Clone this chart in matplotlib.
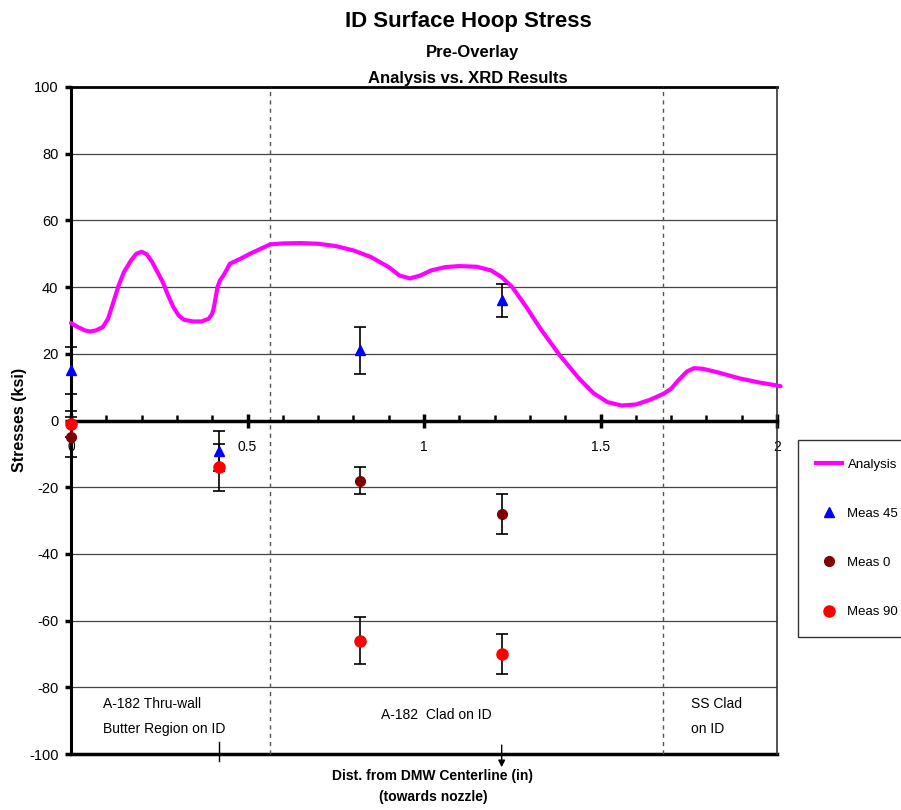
import matplotlib
matplotlib.use('Agg')
import matplotlib.pyplot as plt
from matplotlib.ticker import MultipleLocator, FuncFormatter
from matplotlib.lines import Line2D

plt.rcParams['font.family'] = ['Liberation Sans', 'DejaVu Sans']
plt.rcParams['axes.unicode_minus'] = False

# analysis curve, ID surface hoop stress (ksi) vs distance (in)
analysis_x = [0, 0.02, 0.04, 0.054, 0.07, 0.09, 0.105, 0.12, 0.135, 0.15,
              0.17, 0.185, 0.20, 0.215, 0.23, 0.245, 0.26, 0.275, 0.29, 0.305,
              0.32, 0.346, 0.37, 0.39, 0.40, 0.405, 0.41, 0.415, 0.422, 0.432,
              0.44, 0.45, 0.48, 0.507, 0.564, 0.60, 0.65, 0.70, 0.75, 0.80,
              0.85, 0.90, 0.93, 0.96, 0.99, 1.02, 1.06, 1.10, 1.15, 1.19,
              1.22, 1.25, 1.29, 1.33, 1.385, 1.44, 1.48, 1.52, 1.56, 1.60,
              1.64, 1.678, 1.70, 1.72, 1.745, 1.765, 1.79, 1.83, 1.895, 1.95,
              2.0, 2.01]
analysis_y = [29.2, 28, 27, 26.7, 27, 28, 30.5, 35.5, 40.5, 44.5,
              48, 50, 50.6, 49.8, 47.5, 44.5, 41.5, 37.5, 34, 31.5,
              30.2, 29.7, 29.7, 30.5, 32, 34, 37, 40, 42, 43.5,
              45, 47, 48.5, 50, 52.8, 53.1, 53.2, 53, 52.3, 51,
              49, 46, 43.5, 42.6, 43.5, 45, 46, 46.3, 46.1, 45,
              43, 40, 34, 27.5, 19.5, 12.5, 8.2, 5.5, 4.5, 4.8,
              6.2, 8, 9.5, 12, 14.7, 15.7, 15.5, 14.5, 12.6, 11.4,
              10.5, 10.3]

# XRD measurements
meas_x = [0, 0.42, 0.82, 1.22]
meas45 = [15, -9, 21, 36]
meas45_err = [7, 6, 7, 5]
meas0 = [-5, None, -18, -28]
meas0_err = [6, 0, 4, 6]
meas90 = [-1, -14, -66, -70]
meas90_err = [4, 7, 7, 6]

# material region boundaries
boundaries = [0.564, 1.677]

fig = plt.figure(figsize=(9.01, 8.10), dpi=100)
ax = fig.add_axes([0.0788, 0.0691, 0.7836, 0.8235])

ax.set_xlim(0, 2)
ax.set_ylim(-100, 100)

ax.spines['top'].set_visible(False)
ax.spines['right'].set_color('#333333')
ax.spines['right'].set_linewidth(1.2)
ax.spines['left'].set_linewidth(2.2)
ax.spines['bottom'].set_position(('data', 0))
ax.spines['bottom'].set_linewidth(2.5)

ax.yaxis.set_major_locator(MultipleLocator(20))
ax.xaxis.set_major_locator(MultipleLocator(0.5))
ax.xaxis.set_minor_locator(MultipleLocator(0.1))
ax.xaxis.set_major_formatter(FuncFormatter(lambda v, p: '%g' % v))
ax.tick_params(axis='x', which='major', direction='inout', length=10, width=2.5,
               pad=9, labelsize=10)
ax.tick_params(axis='x', which='minor', direction='in', length=4, width=1.8)
ax.tick_params(axis='y', which='major', direction='out', length=4, width=2.5,
               pad=5, labelsize=10.5)

ax.grid(axis='y', color='#444444', linewidth=0.9)
ax.axhline(100, color='black', linewidth=2, clip_on=False)
ax.axhline(-100, color='black', linewidth=2.5, clip_on=False)

for b in boundaries:
    ax.axvline(b, color='#555555', linewidth=1, linestyle=(0, (3, 3)))

ax.plot(analysis_x, analysis_y, color='#ff00ff', linewidth=3, clip_on=False,
        solid_joinstyle='round', solid_capstyle='round', zorder=3)

ebar = dict(fmt='none', ecolor='black', elinewidth=1.2, capsize=4,
            capthick=1.2, zorder=4, clip_on=False)
x0 = [x for x, v in zip(meas_x, meas0) if v is not None]
y0 = [v for v in meas0 if v is not None]
e0 = [e for e, v in zip(meas0_err, meas0) if v is not None]
ax.errorbar(meas_x, meas45, yerr=meas45_err, **ebar)
ax.errorbar(x0, y0, yerr=e0, **ebar)
ax.errorbar(meas_x, meas90, yerr=meas90_err, **ebar)
ax.plot(meas_x, meas45, '^', color='#0000ff', markersize=7, zorder=5,
        clip_on=False)
ax.plot(x0, y0, 'o', color='#800000', markersize=7, zorder=5, clip_on=False)
ax.plot(meas_x, meas90, 'o', color='#ff0000', markersize=8, zorder=5,
        clip_on=False)

# region labels
ax.text(0.09, -88.8, 'A-182 Thru-wall\nButter Region on ID', fontsize=10,
        va='center', ha='left', linespacing=1.95)
ax.text(1.035, -88.4, 'A-182  Clad on ID', fontsize=10, va='center',
        ha='center')
ax.text(1.757, -88.8, 'SS Clad\non ID', fontsize=10, va='center', ha='left',
        linespacing=1.95)

# position markers below the axis
ax.plot([meas_x[1], meas_x[1]], [-96.5, -102], color='black', linewidth=1,
        clip_on=False)
ax.annotate('', xy=(meas_x[3], -104.8), xytext=(meas_x[3], -96.5),
            arrowprops=dict(arrowstyle='-|>', color='black', lw=1,
                            mutation_scale=10),
            annotation_clip=False)

fig.text(20 / 901, 1 - 420 / 810, 'Stresses (ksi)', fontsize=11.5,
         fontweight='bold', rotation=90, ha='center', va='center')

fig.text(433 / 901, 1 - 776 / 810, 'Dist. from DMW Centerline (in)',
         fontsize=10, fontweight='bold', ha='center', va='center')
fig.text(433 / 901, 1 - 797 / 810, '(towards nozzle)', fontsize=10,
         fontweight='bold', ha='center', va='center')

fig.text(468 / 901, 1 - 22 / 810, 'ID Surface Hoop Stress', fontsize=16,
         fontweight='bold', ha='center', va='center')
fig.text(472 / 901, 1 - 53 / 810, 'Pre-Overlay', fontsize=12,
         fontweight='bold', ha='center', va='center')
fig.text(468 / 901, 1 - 78 / 810, 'Analysis vs. XRD Results', fontsize=12,
         fontweight='bold', ha='center', va='center')

handles = [
    Line2D([], [], color='#ff00ff', linewidth=3),
    Line2D([], [], marker='^', color='#0000ff', linestyle='none', markersize=7),
    Line2D([], [], marker='o', color='#800000', linestyle='none', markersize=7),
    Line2D([], [], marker='o', color='#ff0000', linestyle='none', markersize=8),
]
leg = fig.legend(handles, ['Analysis', 'Meas 45', 'Meas 0', 'Meas 90'],
                 loc='upper left', bbox_to_anchor=(798 / 901, 1 - 440 / 810),
                 fontsize=9.5, frameon=True, fancybox=False, labelspacing=2.8,
                 handlelength=1.9, handletextpad=0.45, borderpad=1.4,
                 borderaxespad=0)
leg.get_frame().set_edgecolor('black')
leg.get_frame().set_linewidth(1)

fig.savefig('out.png', dpi=100)
